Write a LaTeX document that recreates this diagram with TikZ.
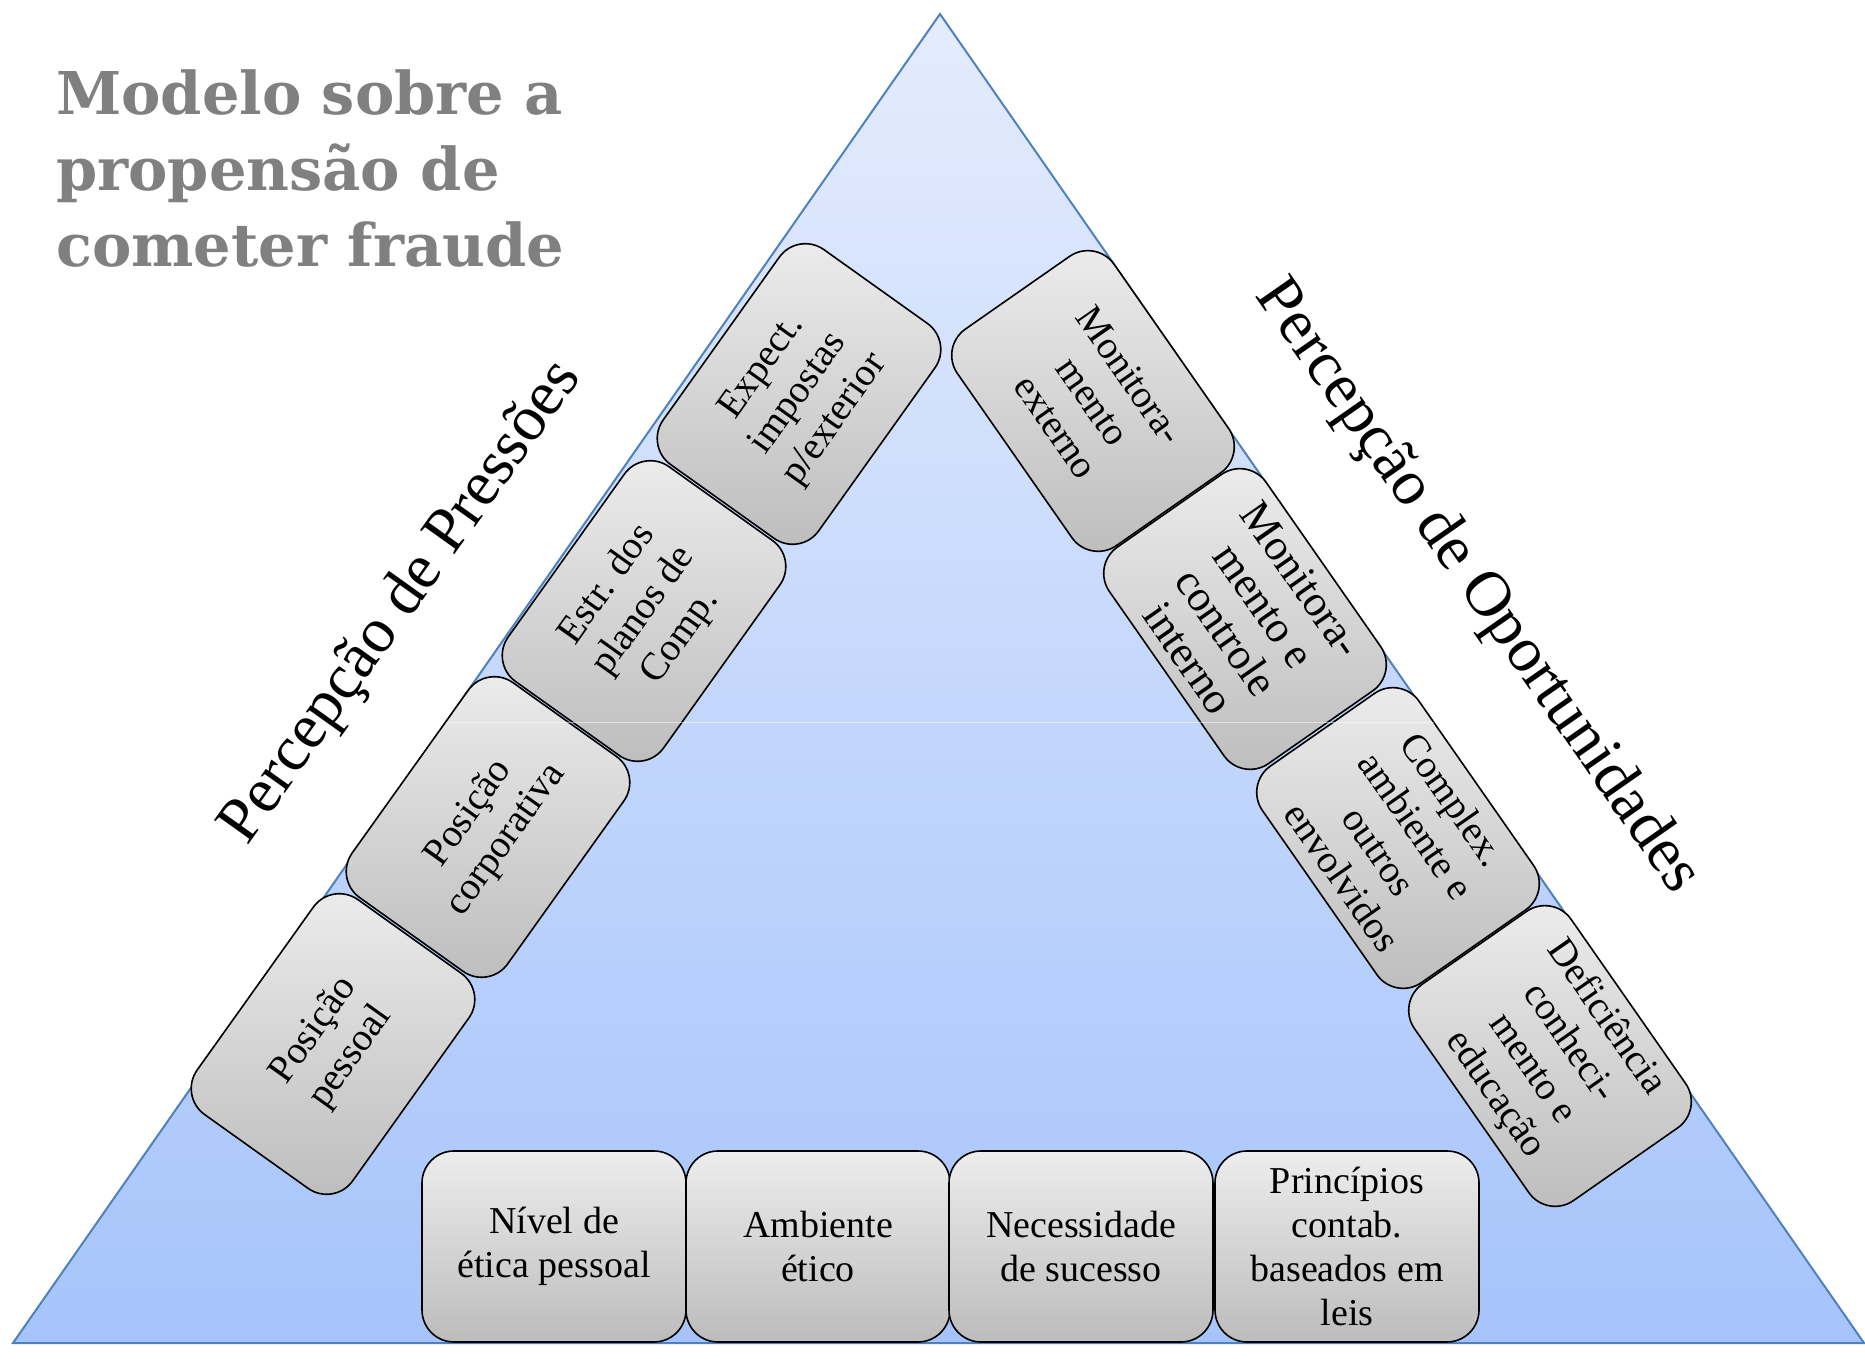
\documentclass[tikz,border=0pt]{standalone}
\usepackage{fontspec}
\setmainfont{Liberation Serif}
\newfontfamily\titlefont{DejaVu Serif}
\definecolor{triTop}{RGB}{228,236,253}
\definecolor{triBot}{RGB}{166,196,251}
\definecolor{triLine}{RGB}{79,129,189}
\definecolor{boxLight}{RGB}{237,237,237}
\definecolor{boxDark}{RGB}{188,188,188}
\definecolor{titleGray}{RGB}{128,128,128}
\begin{document}
\begin{tikzpicture}[x=1pt,y=1pt,
  card/.style={draw=black, line width=1.6pt, rounded corners=32pt,
    minimum width=264pt, minimum height=191pt, inner sep=0pt,
    top color=boxLight, bottom color=boxDark, align=center,
    font=\fontsize{39}{45}\selectfont},
  bigcard/.style={card, font=\fontsize{44}{46}\selectfont},
  flatcard/.style={card, font=\fontsize{38}{44}\selectfont},
  lefttilt/.style={rotate=54.5},
  righttilt/.style={rotate=-55.1},
  sidelabel/.style={font=\rmfamily\fontsize{64}{70}\selectfont, inner sep=0pt},
  titleline/.style={anchor=base west, inner sep=0pt, text=titleGray,
    font=\titlefont\bfseries\fontsize{59}{76}\selectfont}]
\useasboundingbox (0,0) rectangle (1865,1358);
% triangle
\coordinate (bl) at (13,15);
\coordinate (apex) at (940,1344);
\coordinate (br) at (1864,15);
\shade[top color=triTop, bottom color=triBot] (bl) -- (apex) -- (br) -- cycle;
\draw[triLine, line width=2pt, line join=miter] (bl) -- (apex) -- (br) -- cycle;
% title
\node[titleline] (t1) at (56,1243) {Modelo sobre a};
\node[titleline] (t2) at (56,1167) {propensão de};
\node[titleline] (t3) at (56,1091) {cometer fraude};
% side labels
\node[sidelabel, rotate=54.5] (lp) at (402,755) {Percepção de Pressões};
\node[sidelabel, rotate=-55.1] (lo) at (1477,771) {Percepção de Oportunidades};
% left boxes
\node[card, lefttilt] (l1) at (333,314) {Posição\\pessoal};
\node[card, lefttilt] (l2) at (488,531) {Posição\\corporativa};
\node[card, lefttilt] (l3) at (644,747) {Estr. dos\\planos de\\Comp.};
\node[card, lefttilt] (l4) at (799,964) {Expect.\\impostas\\p/exterior};
% right boxes
\node[card, righttilt] (r1) at (1093,957) {Monitora-\\mento\\externo};
\node[bigcard, righttilt] (r2) at (1245,739) {Monitora-\\mento e\\controle\\interno};
\node[card, righttilt] (r3) at (1398,520) {Complex.\\ambiente e\\outros\\envolvidos};
\node[card, righttilt] (r4) at (1550,302) {Deficiência\\conheci-\\mento e\\educação};
% bottom boxes
\node[flatcard] (b1) at (554,111.5) {Nível de\\ética pessoal};
\node[flatcard] (b2) at (818,111.5) {Ambiente\\ético};
\node[flatcard] (b3) at (1081,111.5) {Necessidade\\de sucesso};
\node[flatcard] (b4) at (1347,111.5) {Princípios\\contab.\\baseados em\\leis};
% faint seam across the triangle
\coordinate (sl) at (446,636);
\coordinate (sr) at (1434,636);
\draw[white, opacity=0.5, line width=0.8pt] (sl) -- (sr);
\end{tikzpicture}
\end{document}
